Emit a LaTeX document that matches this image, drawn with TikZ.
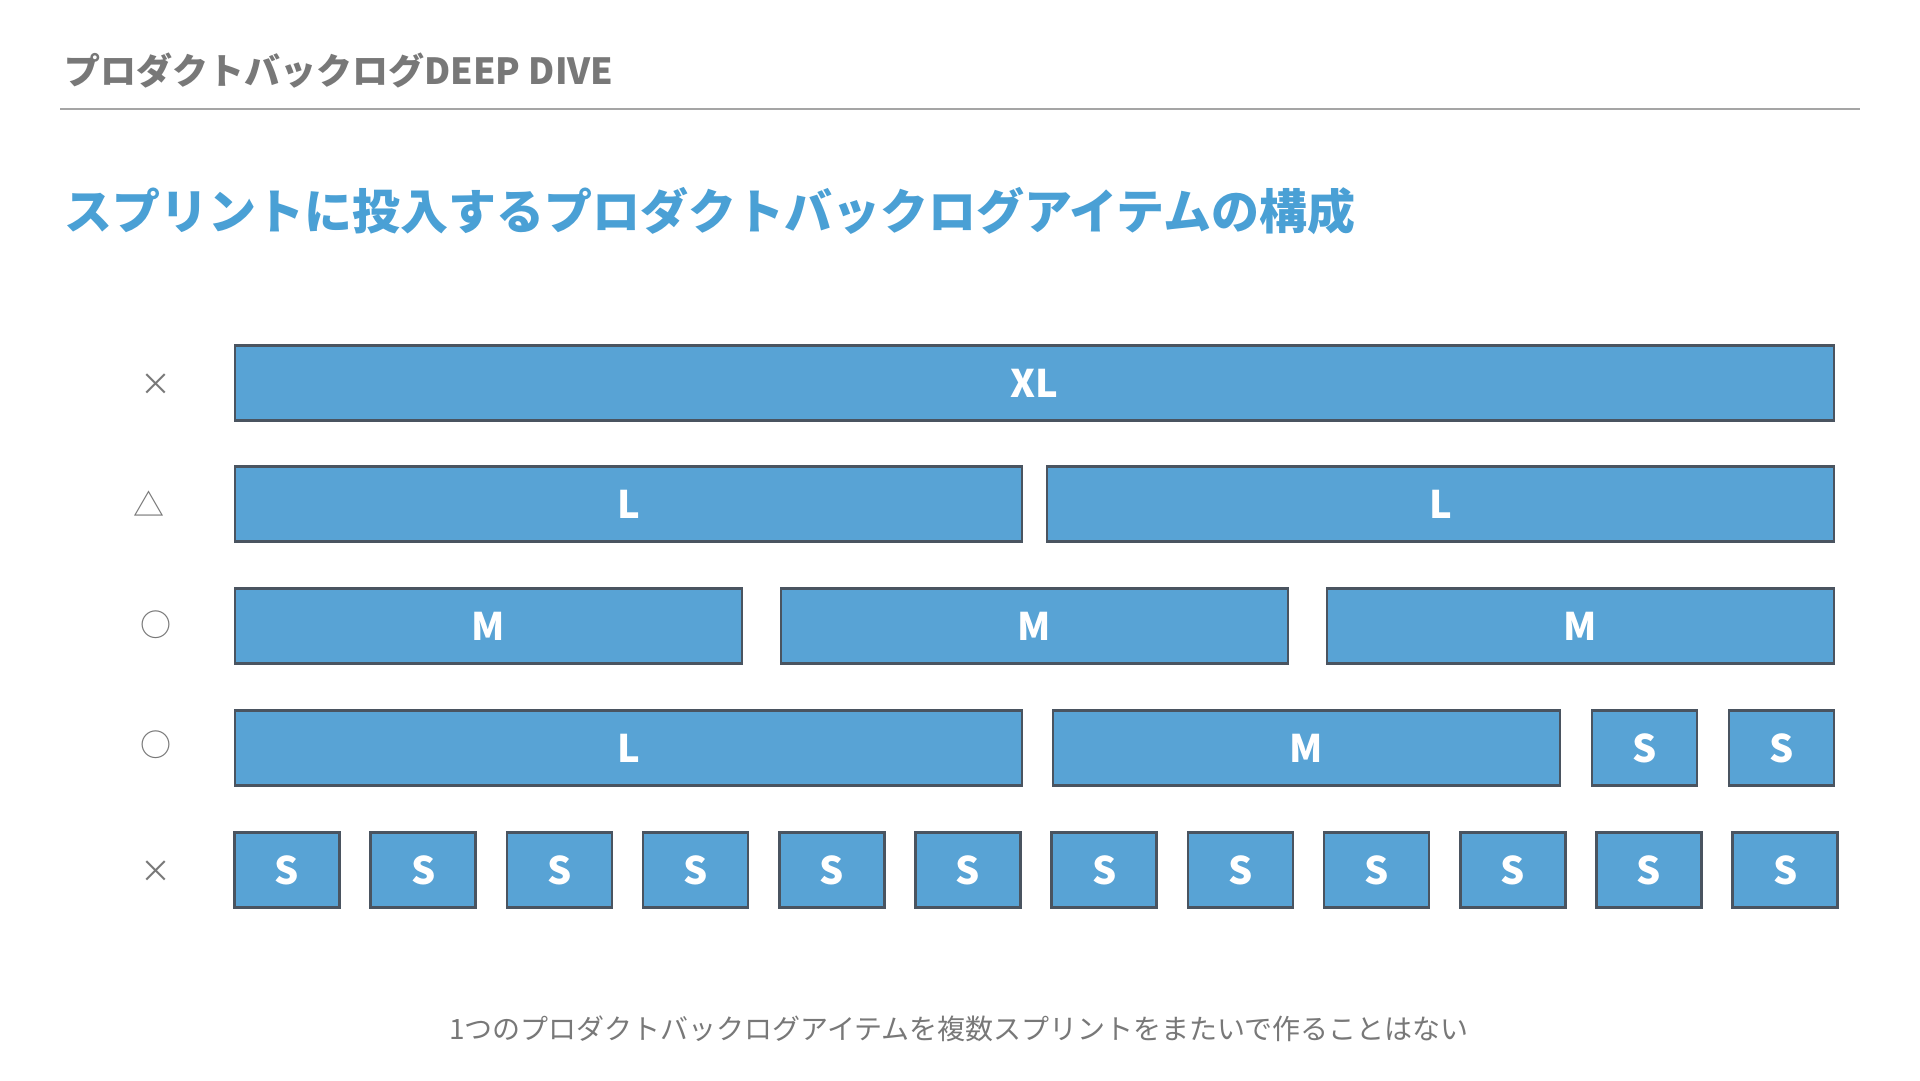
\documentclass[tikz,border=0pt]{standalone}
\usepackage{fontspec}
\setmainfont{Noto Sans CJK JP}
\usepackage{xcolor}
\usetikzlibrary{positioning}
\definecolor{barblue}{RGB}{88,163,213}
\definecolor{barline}{RGB}{74,84,96}
\definecolor{titleblue}{RGB}{74,160,213}
\definecolor{headgray}{RGB}{120,120,120}
\definecolor{rulegray}{RGB}{165,165,165}

\begin{document}
\begin{tikzpicture}[x=1pt,y=-1pt,on grid,node distance=136.2pt,
  item/.style={draw=barline,fill=barblue,line width=2.5pt,minimum height=75pt,
    inner sep=0pt,text=white,font=\bfseries\fontsize{38}{38}\selectfont},
  xl/.style={item,minimum width=1599pt},
  lsize/.style={item,minimum width=787pt},
  msize/.style={item,minimum width=507pt},
  ssize/.style={item,minimum width=105pt},
  judge/.style={text=headgray,font=\fontsize{31}{31}\selectfont,inner sep=0pt}]
  \useasboundingbox[fill=white] (0,0) rectangle (1920,1080);

  % heading
  \node[anchor=west,text=headgray,font=\bfseries\fontsize{36}{36}\selectfont,inner sep=0pt] (head) at (64,71) {プロダクトバックログDEEP DIVE};
  \coordinate (rulea) at (60,109);
  \coordinate (ruleb) at (1860,109);
  \draw[rulegray,line width=1.5pt] (rulea) -- (ruleb);
  \node[anchor=west,text=titleblue,font=\bfseries\fontsize{48}{48}\selectfont,inner sep=0pt] (title) at (64,211) {スプリントに投入するプロダクトバックログアイテムの構成};

  % row 1
  \node[judge] (j1) at (156,385) {×};
  \node[xl] (xl1) at (1034.5,383) {XL};
  % row 2
  \node[judge] (j2) at (149,504) {△};
  \node[lsize] (l1) at (628.5,504) {L};
  \node[lsize] (l2) [right=812pt of l1] {L};
  % row 3
  \node[judge] (j3) at (156,625) {○};
  \node[msize] (m1) at (488.5,626) {M};
  \node[msize] (m2) [right=546pt of m1] {M};
  \node[msize] (m3) [right=546pt of m2] {M};
  % row 4
  \node[judge] (j4) at (156,745) {○};
  \node[lsize] (l3) at (628.5,748) {L};
  \node[msize] (m4) at (1306.5,748) {M};
  \node[ssize] (s1) at (1644.5,748) {S};
  \node[ssize] (s2) [right=137pt of s1] {S};
  % row 5
  \node[judge] (j5) at (156,872) {×};
  \node[ssize] (t1) at (287,870) {S};
  \foreach \i [evaluate=\i as \p using int(\i-1)] in {2,...,12}
    \node[ssize] (t\i) [right=of t\p] {S};

  % note
  \node[text=headgray,font=\fontsize{28}{28}\selectfont,inner sep=0pt] (note) at (959,1029) {1つのプロダクトバックログアイテムを複数スプリントをまたいで作ることはない};
\end{tikzpicture}
\end{document}
